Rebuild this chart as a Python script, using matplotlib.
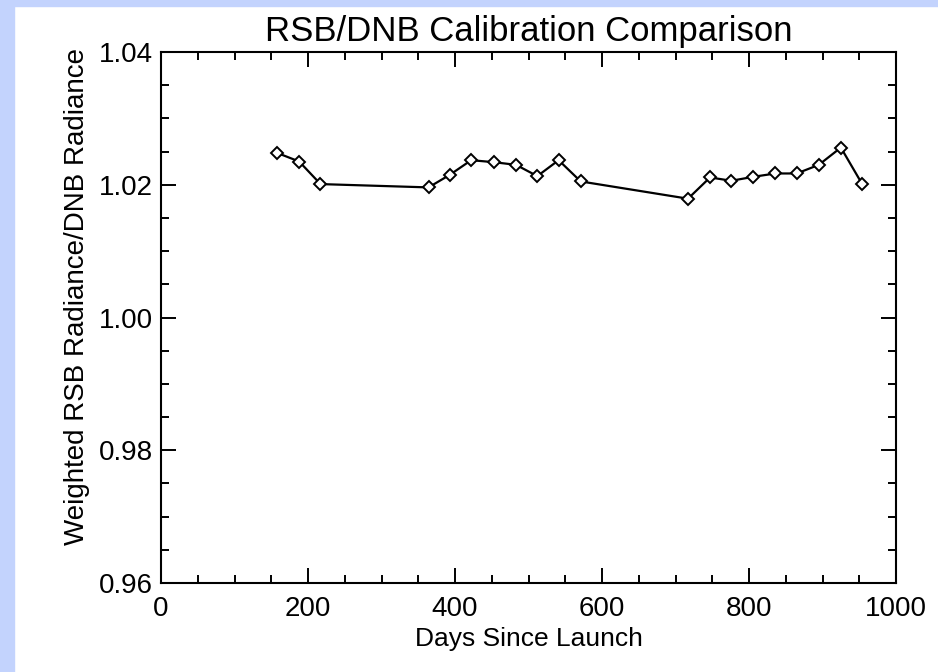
import matplotlib
matplotlib.use('Agg')
import matplotlib.pyplot as plt
from matplotlib.patches import Rectangle
from matplotlib.ticker import MultipleLocator

plt.rcParams['font.family'] = ['Liberation Sans', 'DejaVu Sans']

# values
days = [158, 188, 217, 364, 393, 422, 453, 483, 512, 541, 571,
        717, 747, 776, 806, 836, 865, 895, 925, 954]
ratio = [1.0248, 1.0235, 1.0201, 1.0196, 1.0215, 1.0237, 1.0234, 1.0230, 1.0213, 1.0237, 1.0205,
         1.0179, 1.0211, 1.0206, 1.0212, 1.0217, 1.0217, 1.0230, 1.0256, 1.0201]

fig = plt.figure(figsize=(9.38, 6.72), dpi=100)
fig.patch.set_facecolor('white')
# light blue slide border on the left and top
blue = '#c3d3fd'
fig.patches.append(Rectangle((0, 0), 14 / 938, 1, transform=fig.transFigure, color=blue, zorder=0))
fig.patches.append(Rectangle((0, 1 - 6 / 672), 1, 6 / 672, transform=fig.transFigure, color=blue, zorder=0))

ax = fig.add_axes([161 / 938, 1 - 583 / 672, 735 / 938, 531 / 672])
ax.plot(days, ratio, color='black', lw=1.6, marker='D', ms=6,
        mfc='white', mec='black', mew=1.4)

ax.set_xlim(0, 1000)
ax.set_ylim(0.96, 1.04)
ax.xaxis.set_major_locator(MultipleLocator(200))
ax.xaxis.set_minor_locator(MultipleLocator(50))
ax.yaxis.set_major_locator(MultipleLocator(0.02))
ax.yaxis.set_minor_locator(MultipleLocator(0.005))
ax.yaxis.set_major_formatter(plt.FormatStrFormatter('%.2f'))
ax.tick_params(which='both', direction='in', top=True, right=True, width=1.4, labelsize=20)
ax.tick_params(which='major', length=11, pad=6)
ax.tick_params(axis='x', which='major', pad=9)
ax.tick_params(which='minor', length=6)
for s in ax.spines.values():
    s.set_linewidth(1.5)

ax.set_title('RSB/DNB Calibration Comparison', fontsize=25, pad=8)
ax.set_xlabel('Days Since Launch', fontsize=19, labelpad=4)
ax.set_ylabel('Weighted RSB Radiance/DNB Radiance', fontsize=20)
ax.yaxis.set_label_coords(-0.097, 0.54)

fig.savefig('out.png', dpi=100)
